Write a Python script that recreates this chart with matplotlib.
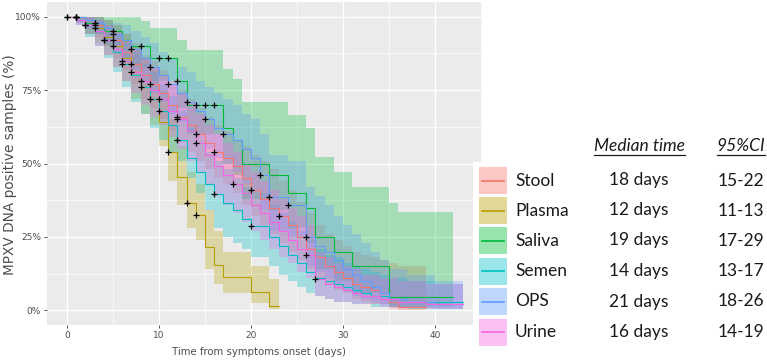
import matplotlib
matplotlib.use("Agg")
import matplotlib.pyplot as plt
import numpy as np
from matplotlib.patches import Rectangle
from matplotlib.lines import Line2D
from matplotlib.ticker import FixedLocator, FuncFormatter

# ---------------- data ----------------
groups = ["Stool", "Plasma", "Saliva", "Semen", "OPS", "Urine"]
colors = ["#F8766D", "#B79F00", "#00BA38", "#00BFC4", "#619CFF", "#F564E3"]
median_labels = ["18 days", "12 days", "19 days", "14 days", "21 days", "16 days"]
ci_labels = ["15-22", "11-13", "17-29", "13-17", "18-26", "14-19"]

# survival (%) on interval [day, day+1), day = 0,1,2,...
stool_surv = [100,100,99,97,95,92,88,84,80,77,74,70,66,63,60,57,54,52,49,45,41,38,35,32,29,25,21,18,15,13,11,9,8,7,6,3,1,1,1]
stool_upper = [100,100,100,100,99,97,94,91,87,85,82,78,75,72,69,66,63,61,58,56,53,51,48,44,41,37,33,29,26,24,22,20,19,18,17,16,15,15,15]
stool_lower = [100,99,96,93,90,86,82,77,72,69,65,61,57,54,51,48,45,43,40,36,32,29,26,23,20,17,14,11,9,7,6,4,3,2,2,0.5,0.2,0.2,0.2]
stool_censor = [1,3,5,7,9,12,14,16,20,23]

plasma_surv = [100,100,98,96,93,90,86,81,76,72,64,54,45.5,36.6,32.6,21.7,15.6,11.2,11.2,11.2,6.4,6.4,1.4]
plasma_upper = [100,100,100,100,99,97,94,90,86,82,75,65,56,47,43,34,27,20,20,20,15,15,10.5]
plasma_lower = [100,98,94,91,87,83,78,72,67,63,56,44,36,28,24,14,9,6,6,6,2.6,2.6,0.5]
plasma_censor = [1,3,5,7,9,11,13,14]

saliva_surv = [100,100,98,98,95,95,92,90,90,86,86,86,78,70,70,70,70,62,58,50,50,50,46,46,40,40,35,25,25,20,20,15,15,15,15,4.7,4.7,4.7,4.7,4.7,4.7,4.7]
saliva_upper = [100,100,100,100,100,100,100,100,98.5,96,96,96,92,88.5,88.5,88.5,88.5,82.3,78.7,71,71,71,71,71,66.5,66.5,62,52.3,52.3,47.2,47.2,42,42,42,42,36.6,33.4,33.4,33.4,33.4,33.4,33.4]
saliva_lower = [100,100,94,94,90,90,86,83,83,78,78,78,69,60,60,60,60,50,46,38,38,38,34,34,28,28,23,14,14,10,10,6,6,6,6,1,1,1,1,1,1,1]
saliva_censor = [0,1,3,5,8,10,11,12,14,15,16]

semen_surv = [100,99,97,95,92,88,84,80,76,72,68,63,58,52,47,43,39.7,36.6,34,31,28.8,28.8,25,22,19,16,13,11,10,9,8,7,6,5,5,4,4,3,3,3,3,3,3]
semen_upper = [100,100,100,99,97,94,91,88,84,81,77,73,68,62,58,54,51,48,45,42,40,40,36,33,30,27,24,21,19,18,16,15,14,13,12,11,11,10,10,10,9,9,9]
semen_lower = [100,97,93,90,86,81,76,71,67,62,58,54,51,45,40,34,28,25,23,21,18,18,15,12,10,8,6,5,4,3,3,2,2,1,1,1,1,0.5,0.5,0.5,0.5,0.5,0.5]
semen_censor = [2,4,6,8,10,12,16,20]

ops_surv = [100,100,99,98,96,94,92,89,86,83,80,77,74,71,68,65,62,60,58,55,52,46,38.7,38.7,36,36,24.8,22,20,17,14,12,10,8,6,4,4,3,3,3,2,2,2]
ops_upper = [100,100,100,100,99,98,97,95,93,91,88,86,83,81,78,76,74,72,70,67,65,60,53,53,51,51,42,39,36,32,29,26,23,20,17,14,14,12,12,12,10,10,10]
ops_lower = [100,98,96,94,91,88,85,82,78,74,71,67,64,61,58,55,52,50,47,43,40,34,27,27,25,25,15,13,11,9,7,5,4,3,2,1,1,0.7,0.7,0.7,0.5,0.5,0.5]
ops_censor = [1,3,5,7,9,11,13,15,17,21,22,24,26]

urine_surv = [100,99,97,95,92,89,85,81,78,75,72,68,65,61,57,53,49,46,43,40,36,33,30,27,24,21,19,10.8,9,8,7,6,5,5,4,4,3,3,3,2,2,2,2]
urine_upper = [100,100,100,99,97,95,92,89,86,83,80,77,74,71,67,63,60,57,54,50,47,44,41,38,35,32,29,20,18,16,15,14,12,12,11,11,10,10,10,9,9,9,9]
urine_lower = [100,97,94,90,87,83,78,74,70,66,63,59,55,51,47,43,39,36,33,30,27,24,21,18,16,13,11,5,4,3,3,2,2,2,1,1,1,1,1,0.5,0.5,0.5,0.5]
urine_censor = [0,2,4,6,8,10,12,14,18,26,27]

survs = [stool_surv, plasma_surv, saliva_surv, semen_surv, ops_surv, urine_surv]
uppers = [stool_upper, plasma_upper, saliva_upper, semen_upper, ops_upper, urine_upper]
lowers = [stool_lower, plasma_lower, saliva_lower, semen_lower, ops_lower, urine_lower]
censors = [stool_censor, plasma_censor, saliva_censor, semen_censor, ops_censor, urine_censor]

# ---------------- figure ----------------
W, H = 767, 361
fig = plt.figure(figsize=(W / 100, H / 100), dpi=100)
fig.patch.set_facecolor("white")

ax_l, ax_r, ax_t, ax_b = 47.2, 482.4, 2, 325
ax = fig.add_axes([ax_l / W, 1 - ax_b / H, (ax_r - ax_l) / W, (ax_b - ax_t) / H])
ax.set_facecolor("#EBEBEB")
for s in ax.spines.values():
    s.set_visible(False)

# bands
for s, up, lo, c in zip(survs, uppers, lowers, colors):
    n = len(s)
    x = np.arange(n + 1)
    ax.fill_between(x, lo + [lo[-1]], up + [up[-1]], step="post",
                    color=c, alpha=0.3, linewidth=0, zorder=2)
# lines
for s, c in zip(survs, colors):
    n = len(s)
    x = np.arange(n + 1)
    ax.step(x, s + [s[-1]], where="post", color=c, lw=0.8, zorder=3)
# censor marks
for s, cz in zip(survs, censors):
    ax.plot(cz, [s[d] for d in cz], ls="none", marker="+", color="black",
            ms=4.5, mew=0.9, zorder=4)

ax.set_xlim(-2.15, 45.15)
ax.set_ylim(-5, 105)
ax.xaxis.set_major_locator(FixedLocator([0, 10, 20, 30, 40]))
ax.xaxis.set_minor_locator(FixedLocator([5, 15, 25, 35, 45]))
ax.yaxis.set_major_locator(FixedLocator([0, 25, 50, 75, 100]))
ax.yaxis.set_minor_locator(FixedLocator([12.5, 37.5, 62.5, 87.5]))
ax.yaxis.set_major_formatter(FuncFormatter(lambda v, p: f"{int(v)}%"))
ax.grid(which="major", color="white", lw=1.0, zorder=0)
ax.grid(which="minor", color="white", lw=0.5, zorder=0)
ax.set_axisbelow(True)
ax.tick_params(which="major", length=2.5, width=0.6, color="#333333",
               labelsize=6.5, labelcolor="#4D4D4D", pad=2)
ax.tick_params(which="minor", length=0)

fig.text(10 / W, 1 - 165 / H, "MPXV DNA positive samples (%)", rotation=90,
         ha="center", va="center", fontsize=9.8, color="#4D4D4D")
fig.text(259 / W, 1 - 352 / H, "Time from symptoms onset (days)",
         ha="center", va="center", fontsize=7.3, color="#4D4D4D")

# ---------------- legend / table ----------------
fig.patches.append(Rectangle((473 / W, 0), (W - 473) / W, (H - 162) / H,
                             transform=fig.transFigure, facecolor="white",
                             edgecolor="none", zorder=5))
key_x0, key_x1 = 479, 507
key_h = 27
row_y = [180.5, 210.5, 240.5, 271, 301.5, 332]
lfont = dict(family="Lato", fontsize=12.5, color="#1a1a1a", zorder=7)
for i, (g, c) in enumerate(zip(groups, colors)):
    yc = row_y[i]
    fig.patches.append(Rectangle((key_x0 / W, 1 - (yc + key_h / 2) / H),
                                 (key_x1 - key_x0) / W, key_h / H,
                                 transform=fig.transFigure, facecolor=c,
                                 alpha=0.4, edgecolor="none", zorder=6))
    fig.lines.append(Line2D([(key_x0 + 3) / W, (key_x1 - 3) / W],
                            [1 - yc / H, 1 - yc / H], transform=fig.transFigure,
                            color=c, lw=1.2, zorder=7))
    fig.text(515 / W, 1 - yc / H, g, ha="left", va="center", **lfont)
    fig.text(639 / W, 1 - yc / H, median_labels[i], ha="center", va="center", **lfont)
    fig.text(741 / W, 1 - yc / H, ci_labels[i], ha="center", va="center", **lfont)

h1 = fig.text(639 / W, 1 - 146 / H, "Median time", ha="center", va="center",
              style="italic", **lfont)
h2 = fig.text(741 / W, 1 - 146 / H, "95%CI", ha="center", va="center",
              style="italic", **lfont)
fig.canvas.draw()
r = fig.canvas.get_renderer()
for h in (h1, h2):
    bb = h.get_window_extent(renderer=r)
    yline = bb.y0 - 1
    fig.lines.append(Line2D([bb.x0 / W, bb.x1 / W], [yline / H, yline / H],
                            transform=fig.transFigure, color="#1a1a1a",
                            lw=0.9, zorder=7))

fig.savefig("out.png", dpi=100, facecolor="white")
